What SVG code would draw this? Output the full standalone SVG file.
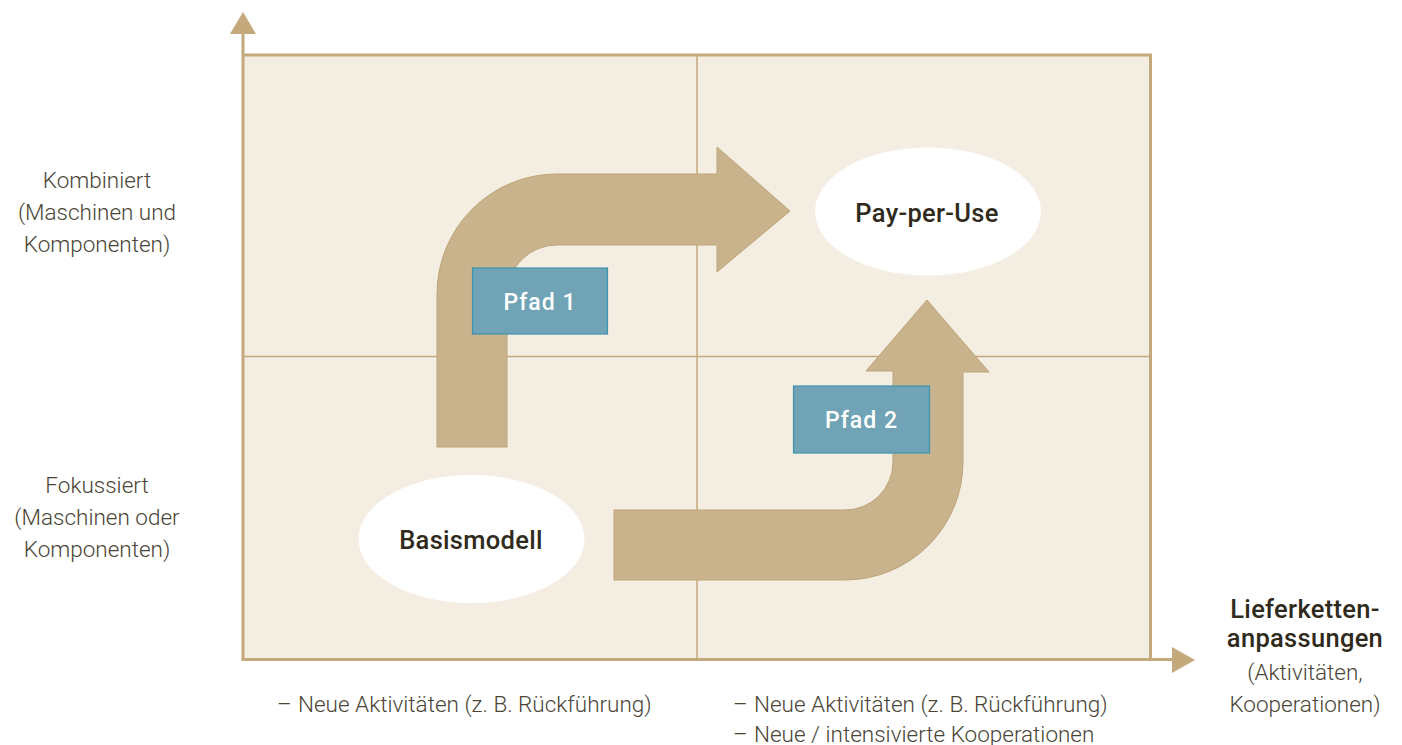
<svg xmlns="http://www.w3.org/2000/svg" width="1402" height="745" viewBox="0 0 1402 745">
<style>
.lbl{font-family:Roboto,"Liberation Sans",sans-serif;font-weight:300;font-size:22.5px;fill:#4a4536}
.bold{font-family:Roboto,"Liberation Sans",sans-serif;font-weight:500;font-size:25.5px;fill:#2f2a1c;letter-spacing:0.3px}
.path-lbl{font-family:Roboto,"Liberation Sans",sans-serif;font-weight:500;font-size:23px;fill:#ffffff;letter-spacing:1px}
.grid{stroke:#c4a97c;stroke-width:1.5;fill:none}
.axis{stroke:#c4a97c;stroke-width:3;fill:none}
.arrow{fill:#c9b38c;stroke:#bda477;stroke-width:1}
.tag{fill:#6fa3b5;stroke:#3f93ad;stroke-width:1.2}
.ell{fill:#ffffff}
</style>
<rect width="1402" height="745" fill="#ffffff"/>
<g id="matrix">
<rect x="243" y="55" width="907" height="604" fill="#f4ede2"/>
<line class="grid" x1="697" y1="55" x2="697" y2="659"/>
<line class="grid" x1="243" y1="356.5" x2="1150" y2="356.5"/>
<polyline class="axis" points="243,55 1150.5,55 1150.5,659"/>
</g>
<g id="axes">
<line class="axis" x1="243" y1="661" x2="243" y2="32"/>
<polygon points="243,12 230,34 256,34" fill="#c4a97c"/>
<line class="axis" x1="241.5" y1="659.5" x2="1174" y2="659.5"/>
<polygon points="1195,660 1172,647 1172,673" fill="#c4a97c"/>
</g>
<g id="connectors">
<path id="pfad1-arrow" class="arrow" d="M437,447 L437,294 A120,120 0 0 1 557,174 L717,174 L717,147 L790,211 L717,272 L717,245 L557,245 A50,50 0 0 0 507,295 L507,447 Z"/>
<path id="pfad2-arrow" class="arrow" d="M614,510 L845,510 A48,48 0 0 0 893,462 L893,371 L866,371 L927,300 L989,372 L963,372 L963,462 A118,118 0 0 1 845,580 L614,580 Z"/>
</g>
<g id="pfad1">
<rect class="tag" x="472.5" y="268" width="135" height="66"/>
<text class="path-lbl" x="540" y="310" text-anchor="middle">Pfad 1</text>
</g>
<g id="pfad2">
<rect class="tag" x="793.5" y="386" width="136" height="67"/>
<text class="path-lbl" x="861.5" y="428" text-anchor="middle">Pfad 2</text>
</g>
<g id="basismodell">
<ellipse class="ell" cx="471.5" cy="539" rx="113" ry="64"/>
<text class="bold" x="471" y="549" text-anchor="middle">Basismodell</text>
</g>
<g id="pay-per-use">
<ellipse class="ell" cx="928" cy="211.5" rx="113" ry="64"/>
<text class="bold" x="927" y="221.5" text-anchor="middle">Pay-per-Use</text>
</g>
<g id="y-labels">
<text class="lbl" text-anchor="middle"><tspan x="97" y="188">Kombiniert</tspan><tspan x="97" y="220">(Maschinen und</tspan><tspan x="97" y="252">Komponenten)</tspan></text>
<text class="lbl" text-anchor="middle"><tspan x="97" y="493">Fokussiert</tspan><tspan x="97" y="525">(Maschinen oder</tspan><tspan x="97" y="557">Komponenten)</tspan></text>
</g>
<g id="x-label">
<text class="bold" text-anchor="middle"><tspan x="1305" y="618">Lieferketten-</tspan><tspan x="1305" y="647">anpassungen</tspan></text>
<text class="lbl" text-anchor="middle"><tspan x="1305" y="680">(Aktivitäten,</tspan><tspan x="1305" y="712">Kooperationen)</tspan></text>
</g>
<g id="x-notes">
<text class="lbl"><tspan x="277" y="712">–</tspan><tspan x="298" y="712">Neue Aktivitäten (z. B. Rückführung)</tspan></text>
<text class="lbl"><tspan x="733" y="712">–</tspan><tspan x="754" y="712">Neue Aktivitäten (z. B. Rückführung)</tspan><tspan x="733" y="742">–</tspan><tspan x="754" y="742">Neue / intensivierte Kooperationen</tspan></text>
</g>
</svg>
